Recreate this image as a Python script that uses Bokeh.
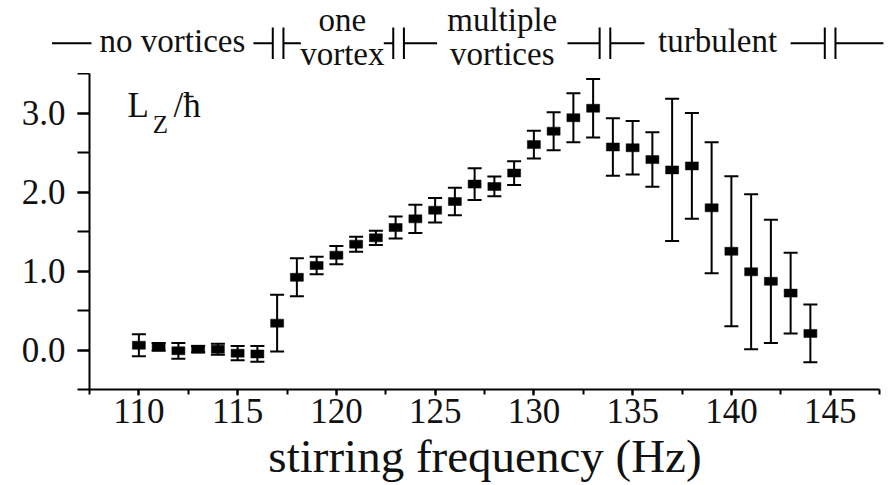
from bokeh.plotting import figure
from bokeh.layouts import column
from bokeh.models import (Range1d, SingleIntervalTicker, PrintfTickFormatter, Whisker,
                          TeeHead, ColumnDataSource)
from bokeh.core.properties import value
from bokeh.embed import file_html
from bokeh.resources import INLINE

# ---------------- data ----------------
freq = [110, 111, 112, 113, 114, 115, 116, 117, 118, 119, 120, 121, 122, 123, 124, 125,
        126, 127, 128, 129, 130, 131, 132, 133, 134, 135, 136, 137, 138, 139, 140, 141,
        142, 143, 144]
lz = [0.06, 0.04, -0.01, 0.01, 0.01, -0.04, -0.05,
      0.34, 0.92, 1.07, 1.20, 1.34, 1.42, 1.55, 1.66, 1.77, 1.88,
      2.10, 2.07, 2.24, 2.60, 2.77, 2.94, 3.06,
      2.57, 2.56, 2.41, 2.28, 2.33, 1.80, 1.25, 0.99, 0.87, 0.72, 0.21]
lz_err = [0.14, 0.05, 0.10, 0.04, 0.07, 0.09, 0.10,
          0.36, 0.24, 0.11, 0.115, 0.095, 0.09, 0.14, 0.18, 0.155, 0.175,
          0.20, 0.125, 0.15, 0.175, 0.24, 0.31, 0.37,
          0.365, 0.34, 0.345, 0.90, 0.67, 0.83, 0.95, 0.98, 0.78, 0.51, 0.365]

x_ticks_interval = 5
y_ticks_interval = 1

# regime annotation (frequency boundaries between regimes, Hz)
regime_lines = [["no vortices"], ["one", "vortex"], ["multiple", "vortices"], ["turbulent"]]
regime_edges = [105.6, 117.05, 123.15, 133.6, 145.0, 147.7]
regime_centers = [111.7, 120.3, 128.4, 139.3]
regime_half_gap = [4.1, 2.1, 3.3, 3.7]

FONT = "Liberation Serif"
INK = "#111111"

# ---------------- layout constants ----------------
W, H = 892, 485
TOP_H = 73
LEFT = 89
RIGHT_PAD = 12
PX_PER_HZ = 19.75
X0 = 107.5
Y0, Y1 = -0.5, 3.5
PX_PER_UNIT = 78.87
BASELINE_SHIFT = 0.3  # rendered baseline sits this many em below requested

# ---------------- main plot ----------------
bottom_h = H - TOP_H
p = figure(width=W, height=bottom_h, output_backend="svg", toolbar_location=None,
           x_range=Range1d(X0, X0 + (W - LEFT - RIGHT_PAD) / PX_PER_HZ),
           y_range=Range1d(Y0, Y1),
           min_border_left=LEFT, min_border_right=RIGHT_PAD, min_border_top=0,
           min_border_bottom=96)
p.frame_align = False
p.outline_line_color = None
p.xgrid.visible = False
p.ygrid.visible = False
p.background_fill_color = "white"
p.border_fill_color = "white"

xa = p.xaxis[0]
xa.ticker = SingleIntervalTicker(interval=x_ticks_interval, num_minor_ticks=2)
xa.bounds = (X0, 147.5)
xa.axis_line_width = 2
xa.axis_line_color = "black"
xa.major_tick_line_width = 2
xa.minor_tick_line_width = 2
xa.major_tick_in = 0
xa.major_tick_out = 6
xa.minor_tick_in = 0
xa.minor_tick_out = 5
xa.major_label_text_font = FONT
xa.major_label_text_font_size = "35px"
xa.major_label_text_color = INK
xa.major_label_standoff = 3
xa.axis_label = "stirring frequency (Hz)"
xa.axis_label_text_font = FONT
xa.axis_label_text_font_style = "normal"
xa.axis_label_text_font_size = "47px"
xa.axis_label_text_color = INK
xa.axis_label_standoff = 4

ya = p.yaxis[0]
ya.ticker = SingleIntervalTicker(interval=y_ticks_interval, num_minor_ticks=2)
ya.bounds = (Y0, Y1)
ya.formatter = PrintfTickFormatter(format="%.1f")
ya.axis_line_width = 2
ya.axis_line_color = "black"
ya.major_tick_line_width = 2
ya.minor_tick_line_width = 2
ya.major_tick_in = 0
ya.major_tick_out = 12
ya.minor_tick_in = 0
ya.minor_tick_out = 12
ya.major_label_text_font = FONT
ya.major_label_text_font_size = "35px"
ya.major_label_text_color = INK
ya.major_label_standoff = 12

src = ColumnDataSource(dict(
    f=freq, v=lz,
    up=[a + e for a, e in zip(lz, lz_err)],
    lo=[a - e for a, e in zip(lz, lz_err)]))
wh = Whisker(source=src, base="f", upper="up", lower="lo", dimension="height",
             line_width=2, line_color="black",
             upper_head=TeeHead(size=14, line_width=2, line_color="black"),
             lower_head=TeeHead(size=14, line_width=2, line_color="black"))
p.add_layout(wh)
p.rect(x="f", y="v", width=13, height=8, width_units="screen", height_units="screen",
       source=src, fill_color="black", line_color="black", line_width=0.5)


def main_y(px_baseline, size):
    """data y that puts the rendered baseline at a given window pixel row"""
    return Y1 - (px_baseline - BASELINE_SHIFT * size - TOP_H) / 79.0


# L_z / hbar label
p.text(x=[109.42], y=[main_y(115, 35)], text=["L"], text_font=value(FONT),
       text_font_size="35px", text_color=INK, text_baseline="alphabetic")
p.text(x=[110.7], y=[main_y(131, 25)], text=["Z"], text_font=value(FONT),
       text_font_size="25px", text_color=INK, text_baseline="alphabetic")
p.text(x=[111.75], y=[main_y(115, 35)], text=["/\u0127"], text_font=value(FONT),
       text_font_size="35px", text_color=INK, text_baseline="alphabetic")

# ---------------- regime strip above ----------------
top_y1 = Y1 + TOP_H / PX_PER_UNIT
t = figure(width=W, height=TOP_H, output_backend="svg", toolbar_location=None,
           x_range=Range1d(X0 - LEFT / PX_PER_HZ, X0 + (W - LEFT) / PX_PER_HZ),
           y_range=Range1d(Y1, top_y1),
           x_axis_location=None, y_axis_location=None,
           min_border_left=0, min_border_right=0, min_border_top=0, min_border_bottom=0)
t.frame_align = False
t.outline_line_color = None
t.xgrid.visible = False
t.ygrid.visible = False

y_line = 3.884
bar_half = 0.2
bar_off = 0.27
xs0, xs1, ys0, ys1 = [], [], [], []
for i in range(len(regime_edges) - 1):
    left = regime_edges[i] + (bar_off if i > 0 else 0)
    right = regime_edges[i + 1] - (bar_off if i < len(regime_edges) - 2 else 0)
    if i < len(regime_centers):
        c, g = regime_centers[i], regime_half_gap[i]
        segs = [(left, c - g), (c + g, right)]
    else:
        segs = [(left, right)]
    for a, b in segs:
        xs0.append(a); xs1.append(b); ys0.append(y_line); ys1.append(y_line)
for e in regime_edges[1:-1]:
    for xb in (e - bar_off, e + bar_off):
        xs0.append(xb); xs1.append(xb)
        ys0.append(y_line - bar_half); ys1.append(y_line + bar_half)
t.segment(x0=xs0, y0=ys0, x1=xs1, y1=ys1, line_width=2, line_color="black")


def strip_y(px_baseline, size=33):
    return top_y1 - (px_baseline - BASELINE_SHIFT * size) / PX_PER_UNIT


# rendered baselines (pixel rows) for one-line and two-line labels
one_line_row = 50
two_line_rows = [29, 63]
tx, ty, tt = [], [], []
for lines, c in zip(regime_lines, regime_centers):
    if len(lines) == 1:
        tx.append(c); ty.append(strip_y(one_line_row)); tt.append(lines[0])
    else:
        tx += [c, c]; ty += [strip_y(r) for r in two_line_rows]; tt += lines
t.text(x=tx, y=ty, text=tt, text_font=value(FONT), text_font_size="33px",
       text_color=INK, text_align="center", text_baseline="alphabetic")

layout = column(t, p, spacing=0)
open("out.html", "w").write(file_html(layout, INLINE))
